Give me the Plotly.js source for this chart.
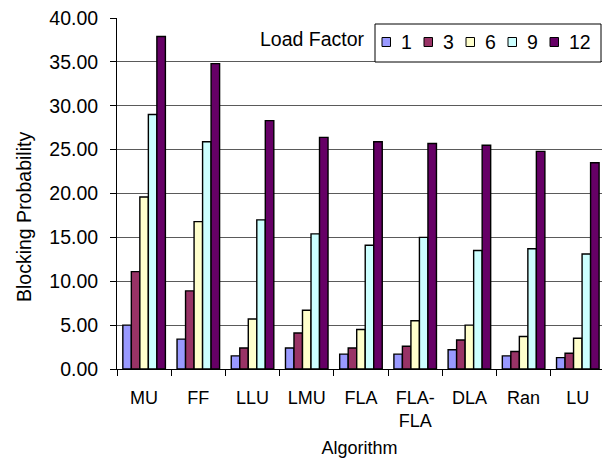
<!DOCTYPE html>
<html>
<head>
<meta charset="utf-8">
<script src="https://cdn.plot.ly/plotly-3.0.1.min.js"></script>
<style>
  html, body { margin: 0; padding: 0; background: #ffffff; }
  #chart { width: 602px; height: 460px; }
</style>
</head>
<body>
<div id="chart"></div>
<script>
// Blocking probability (%) per wavelength-assignment algorithm, one series per load factor
const categories = ["MU", "FF", "LLU", "LMU", "FLA", "FLA-FLA", "DLA", "Ran", "LU"];
const tickLabels = ["MU", "FF", "LLU", "LMU", "FLA", "FLA-<br>FLA", "DLA", "Ran", "LU"];
const loadFactors = ["1", "3", "6", "9", "12"];

const load1  = [5.0, 3.4, 1.5, 2.4, 1.7, 1.7, 2.2, 1.5, 1.3];
const load3  = [11.1, 8.9, 2.4, 4.1, 2.4, 2.6, 3.3, 2.0, 1.8];
const load6  = [19.6, 16.8, 5.7, 6.7, 4.5, 5.5, 5.0, 3.7, 3.5];
const load9  = [29.0, 25.9, 17.0, 15.4, 14.1, 15.0, 13.5, 13.7, 13.1];
const load12 = [37.9, 34.8, 28.3, 26.4, 25.9, 25.7, 25.5, 24.8, 23.5];

const seriesValues = [load1, load3, load6, load9, load12];
const seriesColors = ["#9999FF", "#993366", "#FFFFCC", "#CCFFFF", "#660066"];

const FONT = "Liberation Sans, Arial, Helvetica, sans-serif";
const FS = 19.5;   // value ticks, legend, y title
const FSX = 18;    // category labels and x title

// plot-area geometry in pixels, used to place the legend box and y title
const M = { l: 117, r: 0, t: 18, b: 91 };
const W = 602 - M.l - M.r;
const H = 460 - M.t - M.b;
const px = x => (x - M.l) / W;
const py = y => 1 - (y - M.t) / H;

const traces = seriesValues.map((vals, i) => ({
  type: "bar",
  name: loadFactors[i],
  x: categories,
  y: vals,
  marker: { color: seriesColors[i], line: { color: "#000000", width: 1.4 } },
  showlegend: false,
  hoverinfo: "x+y+name"
}));

// legend: framed box with a swatch and label per load factor
const shapes = [{
  type: "rect", xref: "paper", yref: "paper",
  x0: px(375), x1: px(601), y0: py(62), y1: py(24),
  line: { color: "#000000", width: 1 }, fillcolor: "#ffffff", layer: "above"
}];
const annotations = [];
loadFactors.forEach((lf, i) => {
  const left = 382 + i * 42;
  shapes.push({
    type: "rect", xref: "paper", yref: "paper",
    x0: px(left), x1: px(left + 8.5), y0: py(46.5), y1: py(37.5),
    line: { color: "#000000", width: 1 }, fillcolor: seriesColors[i], layer: "above"
  });
  annotations.push({
    xref: "paper", yref: "paper", x: px(left + 17), y: py(41.5),
    xanchor: "left", yanchor: "middle", showarrow: false,
    text: lf, font: { family: FONT, size: FS, color: "#000000" }
  });
});
annotations.push({
  xref: "paper", yref: "paper", x: px(312), y: py(39),
  xanchor: "center", yanchor: "middle", showarrow: false,
  text: "Load Factor", font: { family: FONT, size: FS, color: "#000000" }
});
annotations.push({
  xref: "paper", yref: "paper", x: px(24), y: py(217),
  xanchor: "center", yanchor: "middle", showarrow: false, textangle: -90,
  text: "Blocking Probability", font: { family: FONT, size: FS, color: "#000000" }
});

const layout = {
  width: 602,
  height: 460,
  margin: M,
  paper_bgcolor: "#ffffff",
  plot_bgcolor: "#ffffff",
  font: { family: FONT, size: FS, color: "#000000" },
  barmode: "group",
  bargap: 0.215,
  bargroupgap: 0,
  showlegend: false,
  xaxis: {
    type: "category",
    range: [-0.5, 8.446],
    tickmode: "array",
    tickvals: categories,
    ticktext: tickLabels,
    tickson: "boundaries",
    ticks: "outside",
    ticklen: 6,
    tickcolor: "#000000",
    showline: true,
    linecolor: "#000000",
    linewidth: 1,
    showgrid: false,
    ticklabelstandoff: 12,
    tickfont: { family: FONT, size: FSX, color: "#000000" },
    title: { text: "Algorithm", font: { family: FONT, size: FSX, color: "#000000" }, standoff: 11 },
    automargin: false
  },
  yaxis: {
    range: [0, 40],
    dtick: 5,
    tick0: 0,
    tickformat: ".2f",
    ticks: "outside",
    ticklen: 6,
    tickcolor: "#000000",
    showline: true,
    linecolor: "#000000",
    linewidth: 1,
    showgrid: true,
    gridcolor: "#5a5a5a",
    gridwidth: 1,
    zeroline: false,
    ticklabelstandoff: 8,
    tickfont: { family: FONT, size: FS, color: "#000000" },
    automargin: false
  },
  shapes: shapes,
  annotations: annotations
};

Plotly.newPlot("chart", traces, layout, { displayModeBar: false, staticPlot: true });
</script>
</body>
</html>
